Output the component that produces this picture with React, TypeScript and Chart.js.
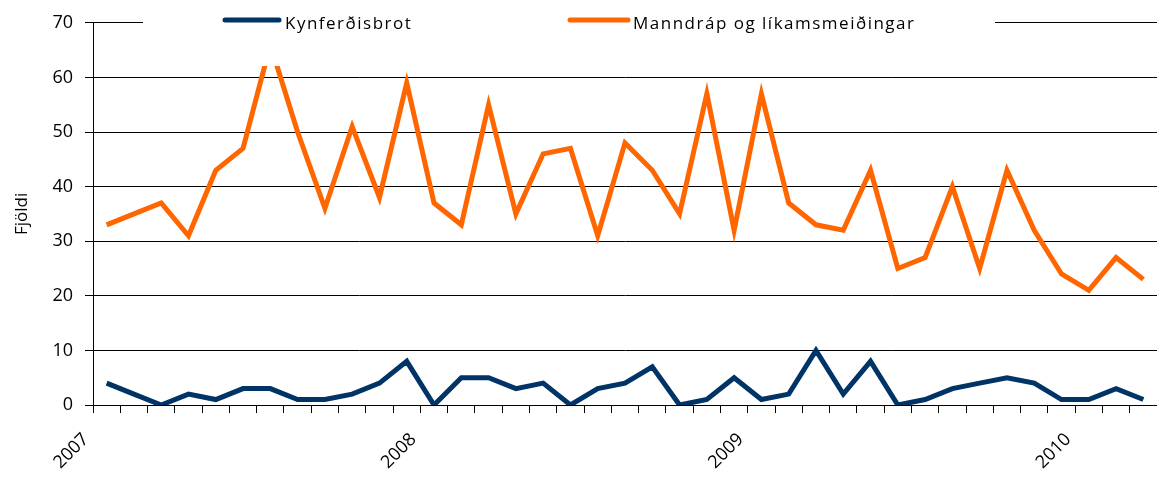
import React, { useEffect, useRef } from "react";
import { Chart, registerables } from "chart.js";

Chart.register(...registerables);

const months = [
  "2007-01", "2007-02", "2007-03", "2007-04", "2007-05", "2007-06", "2007-07", "2007-08", "2007-09", "2007-10", "2007-11", "2007-12",
  "2008-01", "2008-02", "2008-03", "2008-04", "2008-05", "2008-06", "2008-07", "2008-08", "2008-09", "2008-10", "2008-11", "2008-12",
  "2009-01", "2009-02", "2009-03", "2009-04", "2009-05", "2009-06", "2009-07", "2009-08", "2009-09", "2009-10", "2009-11", "2009-12",
  "2010-01", "2010-02", "2010-03",
];
const yearLabels = ["2007", "2008", "2009", "2010"];
const kynferdisbrot = [4, 2, 0, 2, 1, 3, 3, 1, 1, 2, 4, 8, 0, 5, 5, 3, 4, 0, 3, 4, 7, 0, 1, 5, 1, 2, 10, 2, 8, 0, 1, 3, 4, 5, 4, 1, 1, 3, 1];
const manndrap = [33, 35, 37, 31, 43, 47, 66, 50, 36, 51, 38, 59, 37, 33, 55, 35, 46, 47, 31, 48, 43, 35, 57, 32, 57, 37, 33, 32, 43, 25, 27, 40, 25, 43, 32, 24, 21, 27, 23];
const seriesNames = ["Kynferðisbrot", "Manndráp og líkamsmeiðingar"];
const colors = ["#003366", "#FF6600"];
const FONT = "'Open Sans', 'Noto Sans', sans-serif";

const legendPlugin = {
  id: "overlayLegend",
  afterDatasetsDraw(chart: any) {
    const ctx = chart.ctx;
    ctx.save();
    ctx.fillStyle = "#ffffff";
    ctx.fillRect(143, 0, 852, 66);
    const items = [
      { x0: 225, x1: 279, tx: 285 },
      { x0: 570, x1: 628, tx: 633 },
    ];
    chart.data.datasets.forEach((ds: any, i: number) => {
      const it = items[i];
      ctx.strokeStyle = ds.borderColor;
      ctx.lineWidth = 5;
      ctx.lineCap = "round";
      ctx.beginPath();
      ctx.moveTo(it.x0, 20);
      ctx.lineTo(it.x1, 20);
      ctx.stroke();
      ctx.fillStyle = "#000000";
      ctx.font = `17px ${FONT}`;
      (ctx as any).letterSpacing = "1.5px";
      ctx.textBaseline = "alphabetic";
      ctx.textAlign = "left";
      ctx.fillText(ds.label, it.tx, 29);
    });
    ctx.restore();
  },
};

export default function App() {
  const ref = useRef<HTMLCanvasElement>(null);
  useEffect(() => {
    const chart = new Chart(ref.current!, {
      type: "line",
      data: {
        labels: months,
        datasets: [
          {
            label: seriesNames[0],
            data: kynferdisbrot.map((v, i) => ({ x: i + 0.5, y: v })),
            borderColor: colors[0],
            backgroundColor: colors[0],
            borderWidth: 5,
            pointRadius: 0,
            tension: 0,
          },
          {
            label: seriesNames[1],
            data: manndrap.map((v, i) => ({ x: i + 0.5, y: v })),
            borderColor: colors[1],
            backgroundColor: colors[1],
            borderWidth: 5,
            pointRadius: 0,
            tension: 0,
          },
        ],
      },
      options: {
        animation: false,
        responsive: false,
        layout: { padding: { top: 21, right: 0, left: 0, bottom: 0 } },
        plugins: { legend: { display: false }, tooltip: { enabled: false } },
        scales: {
          x: {
            type: "linear",
            min: 0,
            max: months.length,
            afterFit: (s: any) => {
              s.height = 73;
              s.paddingRight = 0;
            },
            ticks: {
              stepSize: 1,
              autoSkip: false,
              maxRotation: 45,
              minRotation: 45,
              padding: 16,
              labelOffset: -7,
              color: "#000",
              font: { family: FONT, size: 18 },
              callback: (v: any) => {
                const n = Math.round(Number(v));
                return n % 12 === 0 ? yearLabels[n / 12] ?? "" : "";
              },
            },
            grid: { drawOnChartArea: false, drawTicks: true, tickLength: 8, color: "#000", lineWidth: 1 },
            border: { display: true, color: "#000", width: 1 },
          },
          y: {
            min: 0,
            max: 70,
            afterFit: (s: any) => {
              s.width = 93;
            },
            ticks: { stepSize: 10, padding: 12, color: "#000", font: { family: FONT, size: 18 } },
            grid: { color: "#000", lineWidth: 1, tickLength: 8 },
            border: { display: true, color: "#000", width: 1 },
            title: {
              display: true,
              text: "Fjöldi",
              color: "#000",
              font: { family: FONT, size: 17 },
              padding: { top: 12, bottom: 0 },
            },
          },
        },
      },
      plugins: [legendPlugin],
    });
    return () => chart.destroy();
  }, []);
  return (
    <div style={{ position: "fixed", left: 0, top: 0, width: 1157, height: 478, background: "#fff" }}>
      <canvas ref={ref} width={1157} height={478} />
    </div>
  );
}
